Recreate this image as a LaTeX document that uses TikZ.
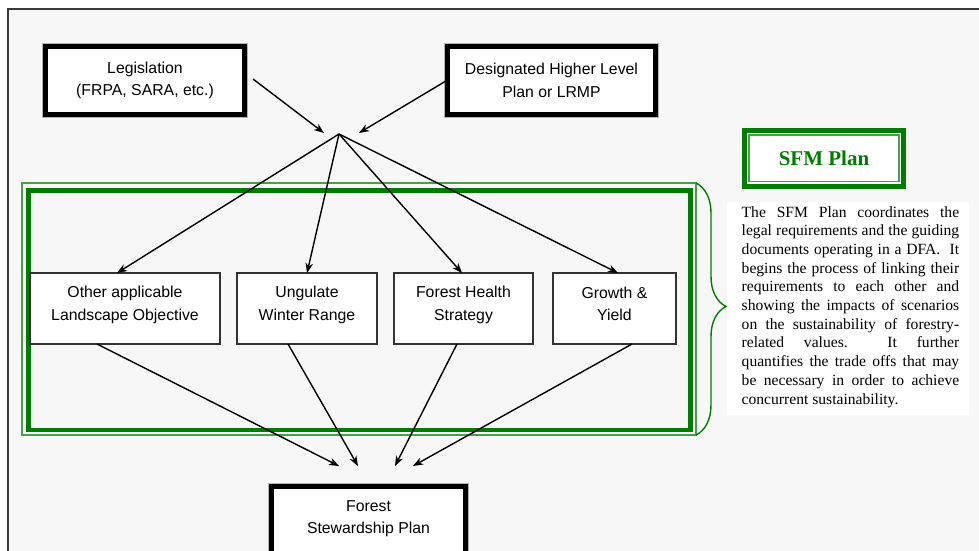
\documentclass[tikz,border=0pt]{standalone}
\usepackage{fontspec}
\setmainfont{Liberation Serif}
\setsansfont{Liberation Sans}
\usetikzlibrary{arrows.meta,decorations.pathreplacing,calc}
\definecolor{bggray}{HTML}{F7F7F7}
\definecolor{framegray}{HTML}{3A3A3A}
\definecolor{dkgreen}{RGB}{0,125,0}
\definecolor{ltgreen}{RGB}{70,160,70}
\begin{document}
\begin{tikzpicture}[x=1pt,y=-1pt,
  sans/.style={font=\sffamily\fontsize{15.8}{22.5}\selectfont, align=center, inner sep=0},
  heavybox/.style={draw=black, line width=5pt, fill=white, inner sep=0, outer sep=0,
     preaction={draw=gray!60, line width=7pt}},
  thinbox/.style={draw=black!80, line width=1.4pt, fill=white, inner sep=0, outer sep=0},
  arr/.style={draw=black, line width=1.4pt, -{Stealth[length=10pt,width=7.5pt,inset=3pt]}},
  grpthin/.style={draw=ltgreen, line width=1.3pt, inner sep=0, outer sep=0},
  grpthick/.style={draw=dkgreen, line width=4.5pt, inner sep=0, outer sep=0},
]
\useasboundingbox (0,0) rectangle (979,550);
\clip (0,0) rectangle (979,550);
\fill[white] (0,0) rectangle (979,550);
% outer page frame
\node[draw=framegray, fill=bggray, line width=1.2pt, inner sep=0, outer sep=0,
      minimum width=992, minimum height=600] (page) at (504,309) {};

% green group frame
\node[grpthin, minimum width=674, minimum height=252] (grpout) at (359,309) {};
\node[grpthick, minimum width=662, minimum height=239.5] (grpin) at (359.5,310.25) {};

% top boxes
\node[heavybox, minimum width=199, minimum height=68] (leg) at (145,80) {};
\node[sans] (leg-t) at (145,80.5) {Legislation\\(FRPA, SARA, etc.)};
\node[heavybox, minimum width=208, minimum height=68] (des) at (551.5,80) {};
\node[sans] (des-t) at (551.5,80.5) {Designated Higher Level\\Plan or LRMP};

% middle boxes
\node[thinbox, minimum width=190, minimum height=71] (other) at (125,308.5) {};
\node[sans] (other-t) at (125,305) {Other applicable\\Landscape Objective};
\node[thinbox, minimum width=140, minimum height=71] (ung) at (307,308.5) {};
\node[sans] (ung-t) at (307,305) {Ungulate\\Winter Range};
\node[thinbox, minimum width=139, minimum height=71] (fh) at (463.5,308.5) {};
\node[sans] (fh-t) at (463.5,305) {Forest Health\\Strategy};
\node[thinbox, minimum width=123, minimum height=71] (gy) at (614.5,308.5) {};
\node[sans] (gy-t) at (614.5,304) {Growth \&\\Yield};

% bottom box
\node[heavybox, minimum width=194.5, minimum height=114] (fsp) at (368.25,543) {};
\node[sans] (fsp-t) at (368.5,518.5) {Forest\\Stewardship Plan};

% SFM plan box
\node[draw=dkgreen, line width=5pt, fill=white, inner sep=0, outer sep=0,
      minimum width=159, minimum height=55.5,
      font=\bfseries\fontsize{21}{24}\selectfont, text=dkgreen] (sfm) at (824,158.25) {SFM Plan};
\draw[ltgreen, line width=1.2pt] ([shift={(4.5,4.5)}]sfm.north west) rectangle ([shift={(-4.5,-4.5)}]sfm.south east);

% description
\node[fill=white, inner sep=0, outer sep=0, minimum width=242, minimum height=213] (descbg) at (848,308.5) {};
\node[anchor=base west, inner sep=0] (desc) at (741.5,217) {\parbox[t]{217.5pt}{\fontsize{15.6}{18.7}\selectfont\noindent
\makebox[\linewidth][s]{The SFM Plan coordinates the}\\
\makebox[\linewidth][s]{legal requirements and the guiding}\\
\makebox[\linewidth][s]{documents operating in a DFA.\ \ It}\\
\makebox[\linewidth][s]{begins the process of linking their}\\
\makebox[\linewidth][s]{requirements to each other and}\\
\makebox[\linewidth][s]{showing the impacts of scenarios}\\
\makebox[\linewidth][s]{on the sustainability of forestry-}\\
\makebox[\linewidth][s]{related values.\ \ It further}\\
\makebox[\linewidth][s]{quantifies the trade offs that may}\\
\makebox[\linewidth][s]{be necessary in order to achieve}\\
concurrent sustainability.}};

% brace
\draw[dkgreen, line width=1.4pt, decorate, decoration={brace, amplitude=30pt, aspect=0.49}]
  (grpout.north east) -- (grpout.south east);

% connectors
\coordinate (hub) at (339,134);
\coordinate (hubL) at (324,133);
\coordinate (hubR) at (359,133);
\draw[arr] ([xshift=8.5pt,yshift=1pt]leg.east) -- (hubL);
\draw[arr] (des.west) -- (hubR);
\draw[arr] (hub) -- ([xshift=-8pt]other.north);
\draw[arr] (hub) -- (ung.north);
\draw[arr] (hub) -- ([xshift=-1.5pt]fh.north);
\draw[arr] (hub) -- ([xshift=3.5pt]gy.north);
\coordinate (in1) at (339,466);
\coordinate (in2) at (358,466);
\coordinate (in3) at (395,466);
\coordinate (in4) at (413,466);
\draw[arr] ([xshift=-28pt]other.south) -- (in1);
\draw[arr] ([xshift=-19pt]ung.south) -- (in2);
\draw[arr] ([xshift=-6.5pt]fh.south) -- (in3);
\draw[arr] ([xshift=17.5pt]gy.south) -- (in4);
\end{tikzpicture}
\end{document}
